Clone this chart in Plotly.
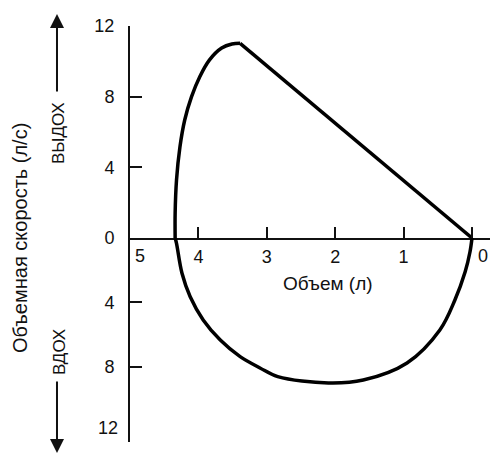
import plotly.graph_objects as go

# Flow-volume loop
# expiration (upper half), flow in l/s
exp_volume = [4.34, 4.34, 4.32, 4.27, 4.20, 4.10, 3.98, 3.84, 3.66, 3.51, 3.39, 0.0]
exp_flow = [0.0, 1.41, 3.28, 5.15, 6.68, 8.0, 9.13, 10.07, 10.75, 10.98, 11.02, 0.0]

# inspiration (lower half), flow in l/s, plotted downward
insp_volume = [0.0, 0.03, 0.10, 0.25, 0.47, 0.95, 1.59, 2.10, 2.84, 3.10, 3.39,
               3.68, 3.93, 4.12, 4.24, 4.32, 4.34]
insp_flow = [0.0, 0.87, 2.1, 3.85, 5.71, 7.76, 8.82, 9.0, 8.61, 8.07, 7.37,
             6.34, 5.09, 3.65, 2.19, 0.33, 0.0]

x_ticks = [4, 3, 2, 1]
x_edge_labels = [5, 0]
y_up_ticks = [0, 4, 8, 12]
y_down_ticks = [4, 8]

FONT = "Liberation Sans, Arial, sans-serif"
INK = "#111111"
SPLIT = 0.4904  # share of plot height below the zero line

fig = go.Figure()
fig.add_trace(go.Scatter(
    x=exp_volume[:-1], y=exp_flow[:-1], mode="lines",
    line=dict(color="black", width=3.5, shape="spline", smoothing=1.0),
    xaxis="x", yaxis="y", hoverinfo="skip",
))
fig.add_trace(go.Scatter(
    x=exp_volume[-2:], y=exp_flow[-2:], mode="lines",
    line=dict(color="black", width=3.5),
    xaxis="x", yaxis="y", hoverinfo="skip",
))
fig.add_trace(go.Scatter(
    x=insp_volume, y=insp_flow, mode="lines",
    line=dict(color="black", width=3.5, shape="spline", smoothing=1.0),
    xaxis="x", yaxis="y2", hoverinfo="skip",
))

axis_common = dict(
    showline=True, linecolor=INK, linewidth=2, showgrid=False, zeroline=False,
    ticks="inside", tickcolor=INK, tickwidth=2, automargin=False,
    tickfont=dict(family=FONT, size=18, color=INK),
)

# page body adds an 8px offset, so the figure is a bit smaller than the window
fig.update_layout(
    width=494, height=447,
    margin=dict(l=122, r=12, t=18, b=13),
    plot_bgcolor="white", paper_bgcolor="white",
    showlegend=False,
    xaxis=dict(
        axis_common, range=[5, -0.263], anchor="y", side="bottom",
        tickvals=x_ticks, ticklen=11, ticklabelstandoff=1,
    ),
    yaxis=dict(
        axis_common, domain=[SPLIT, 1], range=[0, 12], anchor="x",
        tickvals=y_up_ticks, ticklen=12, ticklabelstandoff=10,
    ),
    yaxis2=dict(
        axis_common, domain=[0, SPLIT], range=[12.67, 0], anchor="x",
        tickvals=y_down_ticks, ticklen=12, ticklabelstandoff=10,
    ),
)

# tick mark at volume 0 (label drawn separately, offset like the original)
fig.add_shape(type="line", xref="x", yref="y", x0=0, x1=0, y0=0, y1=0.62,
              line=dict(color=INK, width=2))

txt = dict(family=FONT, size=18, color=INK)
for v, shift in zip(x_edge_labels, [10, 11]):
    fig.add_annotation(x=v, y=0, xref="x", yref="y", text=str(v), showarrow=False,
                       xshift=shift, yanchor="top", yshift=-6, font=txt)
fig.add_annotation(x=0, y=12, xref="paper", yref="y2", text="12", showarrow=False,
                   xanchor="right", xshift=-10, yshift=3, font=txt)

fig.add_annotation(x=2.1, y=2.8, xref="x", yref="y2", text="Объем (л)",
                   showarrow=False, font=dict(txt, size=19))
fig.add_annotation(x=-0.3056, y=SPLIT, xref="paper", yref="paper",
                   text="Объемная скорость (л/с)", textangle=-90,
                   xanchor="center", yanchor="middle",
                   showarrow=False, font=dict(txt, size=20))

small = dict(family=FONT, size=17, color=INK)
fig.add_annotation(x=-0.197, y=0.743, xref="paper", yref="paper", text="ВЫДОХ",
                   textangle=-90, xanchor="center", yanchor="middle",
                   showarrow=False, font=small)
fig.add_annotation(x=-0.197, y=0.2163, xref="paper", yref="paper", text="ВДОХ",
                   textangle=-90, xanchor="center", yanchor="middle",
                   showarrow=False, font=small)
fig.add_annotation(x=-0.2028, y=1.0288, xref="paper", yref="paper", text="",
                   showarrow=True, ax=0, ay=79, arrowhead=2, arrowsize=1.4,
                   arrowwidth=2, arrowcolor=INK)
fig.add_annotation(x=-0.2028, y=-0.0264, xref="paper", yref="paper", text="",
                   showarrow=True, ax=0, ay=-73, arrowhead=2, arrowsize=1.4,
                   arrowwidth=2, arrowcolor=INK)

fig.write_html("out.html")
